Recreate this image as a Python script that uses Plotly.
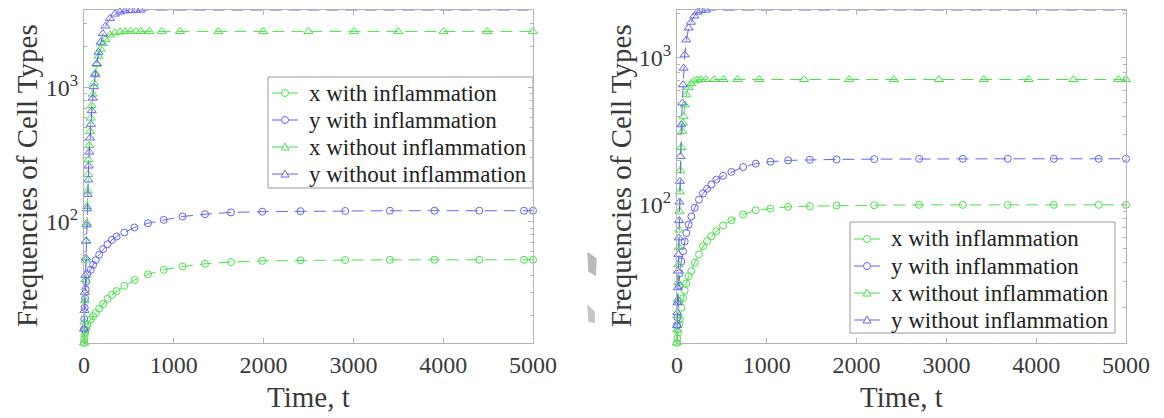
import plotly.graph_objects as go
from plotly.subplots import make_subplots

# ---------------- data ----------------
# Left panel
t_left_with = [0, 3, 7, 12, 18, 26, 37, 75, 101, 131, 169, 213, 262, 311, 363, 449, 562, 712,
               888, 1097, 1348, 1637, 1985, 2410, 2908, 3406, 3904, 4402, 4900, 5000]
x_left_with = [12.6, 13.4, 14.2, 15, 15.8, 16.5, 17.2, 18.8, 19.9, 21, 22.7, 24.5, 26.8, 28.7, 30.6,
               33.5, 37, 40.8, 44, 46.6, 48.8, 50.3, 51.3, 51.8, 52, 52.2, 52.3, 52.3, 52.3, 52.3]
y_left_with = [16, 19, 23, 27, 31.5, 36, 41, 44, 48, 52, 57, 62.7, 68.2, 73.5, 77.8, 83.4, 90.8,
               97.7, 103.5, 109.6, 114, 117.5, 119, 120, 120.5, 121, 121, 121, 121, 121]

t_left_without = [0, 5, 10, 15, 20, 25, 30, 35, 40, 46, 52, 59, 67, 76, 86, 97, 110, 125, 142, 162,
                  185, 210, 239, 290, 345, 401, 457, 520, 579, 631, 728, 866, 1069, 1496, 1997,
                  2498, 3008, 3498, 4004, 4490, 5000]
x_left_without = [12.6, 18, 26, 37, 52, 72, 98, 130, 170, 225, 290, 370, 470, 590, 730, 890, 1070,
                  1270, 1480, 1700, 1920, 2110, 2270, 2450, 2540, 2575, 2590, 2597, 2600, 2600,
                  2600, 2600, 2600, 2600, 2600, 2600, 2600, 2600, 2600, 2600, 2600]
y_left_without = [16, 22, 30, 40, 54, 72, 95, 125, 160, 205, 260, 330, 420, 530, 670, 830, 1010,
                  1240, 1500, 1820, 2160, 2500, 2850, 3250, 3500, 3620, 3690, 3720, 3740, 3748,
                  3750, 3750, 3750, 3750, 3750, 3750, 3750, 3750, 3750, 3750, 3750]

# Right panel
t_right_with = [0, 4, 11, 22, 30, 48, 67, 86, 104, 130, 160, 197, 245, 290, 335, 383, 439, 513,
                606, 736, 877, 1041, 1238, 1480, 1777, 2196, 2696, 3183, 3683, 4196, 4696, 5000]
x_right_with = [11.4, 12.2, 13.4, 15.2, 16.5, 19.8, 23, 26, 29, 32.5, 35.2, 40.1, 45.7, 52, 56.3,
                60.8, 65.8, 71.9, 78.2, 85.5, 91.4, 93.9, 96.4, 97.5, 98.5, 99, 99.5, 99.5, 99.5,
                99.5, 99.5, 99.5]
y_right_with = [15, 17, 22, 28, 34, 41, 48, 56, 64, 73, 83, 95, 108, 119, 128, 137, 148, 157, 167,
                180, 190, 196, 200, 202, 203, 204, 205, 205, 205, 205, 205, 205]

t_right_without = [0, 3, 6, 9, 12, 16, 20, 24, 28, 33, 38, 48, 59, 67, 74, 86, 104, 130, 155, 193,
                   230, 267, 322, 415, 519, 674, 915, 1415, 1915, 2415, 2915, 3415, 3915, 4415,
                   4915, 5000]
x_right_without = [11.4, 14, 17.5, 22.5, 29.5, 39, 51, 67, 90, 122, 170, 245, 315, 360, 399, 478,
                   560, 630, 668, 697, 707, 711, 712, 712, 712, 712, 712, 712, 712, 712, 712, 712,
                   712, 712, 712, 712]
y_right_without = [15, 18.3, 21.4, 27.1, 35.2, 45.7, 59.3, 77.8, 104, 144, 213, 350, 492, 655, 851,
                   1048, 1326, 1600, 1750, 1930, 2050, 2100, 2116, 2120, 2120, 2120, 2120, 2120,
                   2120, 2120, 2120, 2120, 2120, 2120, 2120, 2120]

legend_names = ["x with inflammation", "y with inflammation",
                "x without inflammation", "y without inflammation"]
x_ticks = [0, 1000, 2000, 3000, 4000, 5000]
y_major = [100, 1000]
y_major_text = ["10<sup>2</sup>", "10<sup>3</sup>"]
x_title = "Time, t"
y_title = "Frequencies of Cell Types"

# ---------------- styling / geometry ----------------
# The page body adds an 8px offset, so the figure is 8px smaller and all
# target pixel positions below are expressed in page coordinates.
OFF = 8
W, H = 1164 - OFF, 418 - OFF
PL, PR, PT, PB = 84, 1126, 10, 343          # full plotting area on the page
ML, MR, MT, MB = PL - OFF, (W + OFF) - PR, PT - OFF, (H + OFF) - PB
PW, PH = PR - PL, PB - PT
GREEN = "rgb(70,228,70)"
BLUE = "rgb(100,100,248)"
FONT = "Liberation Serif"
AXC = "#b4b4b4"
TXT = "#3a3a3a"
DASH = "12px,7px"


def px(xp):
    return (xp - PL) / PW


def py(yp):
    return (PB - yp) / PH


fig = make_subplots(rows=1, cols=2)

colors = [GREEN, BLUE, GREEN, BLUE]
symbols = ["circle-open", "circle-open", "triangle-up-open", "triangle-up-open"]
sizes = [7, 7, 8, 8]

panels = [
    (1, [(t_left_with, x_left_with), (t_left_with, y_left_with),
         (t_left_without, x_left_without), (t_left_without, y_left_without)]),
    (2, [(t_right_with, x_right_with), (t_right_with, y_right_with),
         (t_right_without, x_right_without), (t_right_without, y_right_without)]),
]
for col, series in panels:
    for i, (tt, vv) in enumerate(series):
        fig.add_trace(go.Scatter(
            x=tt, y=vv, mode="lines+markers", name=legend_names[i], showlegend=False,
            line=dict(color=colors[i], width=1, dash=DASH),
            marker=dict(symbol=symbols[i], size=sizes[i], color=colors[i],
                        line=dict(color=colors[i], width=1)),
            cliponaxis=False,
        ), row=1, col=col)

dom_left = [0, px(533)]
dom_right = [px(677), 1]
minor_vals = [m * 10 ** k for k in (1, 2, 3) for m in range(2, 10)]

for col, dom, yr in [(1, dom_left, [1.1, 3.574]), (2, dom_right, [1.056, 3.3263])]:
    fig.update_xaxes(domain=dom, range=[0, 5000], tickvals=x_ticks, ticks="inside", ticklen=5,
                     tickcolor=AXC, showline=True, linecolor=AXC, linewidth=1, mirror="ticks",
                     showgrid=False, zeroline=False,
                     tickfont=dict(family=FONT, size=24, color=TXT), row=1, col=col)
    fig.update_yaxes(domain=[0, 1], type="log", range=yr, tickvals=y_major, ticktext=y_major_text,
                     ticks="inside", ticklen=5, tickcolor=AXC, showline=True, linecolor=AXC,
                     linewidth=1, mirror="ticks", showgrid=False, zeroline=False,
                     minor=dict(tickvals=minor_vals, ticks="inside", ticklen=3, tickcolor=AXC,
                                showgrid=False),
                     tickfont=dict(family=FONT, size=24, color=TXT), row=1, col=col)

fig.update_layout(width=W, height=H, margin=dict(l=ML, r=MR, t=MT, b=MB),
                  paper_bgcolor="white", plot_bgcolor="white", showlegend=False)

# axis titles
title_font = dict(family=FONT, size=29, color=TXT)
for xc, yc, text, ang in [(27, 176, y_title, -90), (621, 176, y_title, -90),
                          (308, 397, x_title, 0), (901, 397, x_title, 0)]:
    fig.add_annotation(x=px(xc), y=py(yc), xref="paper", yref="paper", text=text,
                       textangle=ang, showarrow=False, font=title_font,
                       xanchor="center", yanchor="middle")

# ---------------- legends (box, sample line + marker, label) ----------------
for (bx0, by0, bx1, by1), rows in [((268, 77, 533, 188), [93, 120, 147, 174]),
                                   ((850, 222, 1115, 333), [239, 266, 293, 320])]:
    fig.add_shape(type="rect", xref="paper", yref="paper", x0=px(bx0), y0=py(by0),
                  x1=px(bx1), y1=py(by1), fillcolor="white", line=dict(color="#9a9a9a", width=1),
                  layer="below")
    for i, ry in enumerate(rows):
        lx0, lx1 = bx0 + 4, bx0 + 30
        mx = (lx0 + lx1) / 2
        fig.add_shape(type="line", xref="paper", yref="paper", x0=px(lx0), x1=px(lx1),
                      y0=py(ry), y1=py(ry), line=dict(color=colors[i], width=1))
        if symbols[i].startswith("circle"):
            fig.add_shape(type="circle", xref="paper", yref="paper", xsizemode="pixel",
                          ysizemode="pixel", xanchor=px(mx), yanchor=py(ry),
                          x0=-3.5, x1=3.5, y0=-3.5, y1=3.5, fillcolor="white",
                          line=dict(color=colors[i], width=1))
        else:
            fig.add_shape(type="path", xref="paper", yref="paper", xsizemode="pixel",
                          ysizemode="pixel", xanchor=px(mx), yanchor=py(ry),
                          path="M -4,-3 L 4,-3 L 0,4 Z", fillcolor="white",
                          line=dict(color=colors[i], width=1))
        fig.add_annotation(x=px(bx0 + 39), y=py(ry), xref="paper", yref="paper",
                           text=legend_names[i], showarrow=False, xanchor="left",
                           yanchor="middle", font=dict(family=FONT, size=23, color="#222"))

# gray scan artefacts beside the right panel
for pts, colr in [([(587.3, 251.7), (596.7, 258.3), (596, 276), (588.3, 271.7)], "#b9b9b9"),
                  ([(587.3, 304), (595, 311.7), (595, 323.3), (588.3, 321.7)], "#c6c6c6")]:
    path = "M " + " L ".join(f"{px(a):.5f},{py(b):.5f}" for a, b in pts) + " Z"
    fig.add_shape(type="path", path=path, xref="paper", yref="paper",
                  fillcolor=colr, line=dict(width=0))

fig.write_html("out.html")
